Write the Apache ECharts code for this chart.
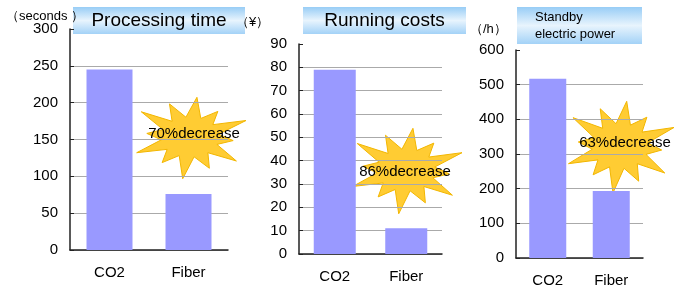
<!DOCTYPE html>
<html>
<head>
<meta charset="utf-8">
<script src="https://cdn.jsdelivr.net/npm/echarts@6/dist/echarts.min.js"></script>
<style>
  html, body { margin: 0; padding: 0; background: #fff; }
  #main { width: 674px; height: 288px; }
</style>
</head>
<body>
<div id="main"></div>
<script>
var categories = ['CO2', 'Fiber'];
var timeValues = [245, 76];
var costValues = [79, 11];
var powerValues = [517, 193];
var titles = ['Processing time', 'Running costs', 'Standby\nelectric power'];
var units = ['（seconds ）', '（¥）', '（/h）'];
var decreases = ['70%decrease', '86%decrease', '63%decrease'];

var font = 'Liberation Sans, Arial, sans-serif';
var chart = echarts.init(document.getElementById('main'));

// irregular burst shape around a centre
function burst(cx, cy, rx, ry) {
    var outer = [1.0, 0.8, 1.05, 0.75, 1.0, 0.85, 1.05, 0.8, 1.0, 0.75, 1.05, 0.9];
    var pts = [];
    for (var i = 0; i < outer.length; i++) {
        var a = (i / outer.length) * Math.PI * 2 - Math.PI / 2 + 0.12;
        var b = a + Math.PI / outer.length;
        pts.push([cx + Math.cos(a) * rx * outer[i], cy + Math.sin(a) * ry * outer[i]]);
        pts.push([cx + Math.cos(b) * rx * 0.5, cy + Math.sin(b) * ry * 0.5]);
    }
    return pts;
}

function titleBox(x, y, w, h, text, size, align) {
    return {
        type: 'group',
        children: [{
            type: 'rect',
            shape: { x: x, y: y, width: w, height: h },
            style: {
                fill: new echarts.graphic.LinearGradient(0, 0, 0, 1, [
                    { offset: 0, color: '#98cdf6' },
                    { offset: 0.5, color: '#e8f4fd' },
                    { offset: 1, color: '#a3d2f7' }
                ])
            }
        }, {
            type: 'text',
            style: {
                x: align === 'left' ? x + 18 : x + w / 2,
                y: y + h / 2,
                text: text,
                fill: '#000',
                font: size + 'px ' + font,
                align: align || 'center',
                verticalAlign: 'middle',
                lineHeight: size + 4
            }
        }]
    };
}

function star(cx, cy, rx, ry, text, tx, ty) {
    return {
        type: 'group',
        children: [{
            type: 'polygon',
            shape: { points: burst(cx, cy, rx, ry) },
            style: { fill: '#ffcc33', stroke: '#f2b600', lineWidth: 1 }
        }, {
            type: 'text',
            style: {
                x: tx, y: ty, text: text, fill: '#000',
                font: '15px ' + font, align: 'center', verticalAlign: 'middle'
            }
        }]
    };
}

function unitText(x, y, text) {
    return { type: 'text', style: { x: x, y: y, text: text, fill: '#000', font: '13px ' + font, verticalAlign: 'middle' } };
}

var grids = [
    { left: 70, right: 446, top: 29, bottom: 38 },
    { left: 299, right: 232, top: 44, bottom: 34 },
    { left: 516, right: 31, top: 50, bottom: 29 }
];
var yCfg = [
    { max: 300, interval: 50 },
    { max: 90, interval: 10 },
    { max: 600, interval: 100 }
];
var allValues = [timeValues, costValues, powerValues];
var barWidths = [46, 42, 37];

chart.setOption({
    animation: false,
    grid: grids,
    xAxis: grids.map(function (g, i) {
        return {
            type: 'category', gridIndex: i, data: categories,
            axisLine: { lineStyle: { color: '#222', width: 1.5 } },
            axisTick: { inside: true, length: 4, lineStyle: { color: '#222' } },
            axisLabel: { color: '#000', fontSize: 15, fontFamily: font, margin: 15 }
        };
    }),
    yAxis: yCfg.map(function (c, i) {
        return {
            type: 'value', gridIndex: i, min: 0, max: c.max, interval: c.interval,
            axisLine: { show: true, lineStyle: { color: '#222', width: 1.5 } },
            axisTick: { show: true, inside: true, length: 4, lineStyle: { color: '#222' } },
            axisLabel: { color: '#000', fontSize: 15, fontFamily: font, margin: 12 },
            splitLine: { show: true, showMaxLine: false, lineStyle: { color: '#aaa' } }
        };
    }),
    series: allValues.map(function (v, i) {
        return {
            type: 'bar', xAxisIndex: i, yAxisIndex: i, data: v,
            barWidth: barWidths[i], itemStyle: { color: '#9999ff' }
        };
    }),
    graphic: [
        titleBox(73, 7, 172, 27, titles[0], 19),
        titleBox(303, 7, 163, 27, titles[1], 19),
        titleBox(517, 7, 125, 37, titles[2], 13, 'left'),
        unitText(6, 16, units[0]),
        unitText(236, 22, units[1]),
        unitText(470, 29, units[2]),
        star(190, 137, 58, 40, decreases[0], 194, 134),
        star(406, 170, 58, 42, decreases[1], 405, 172),
        star(620, 146, 56, 45, decreases[2], 625, 143)
    ]
});
</script>
</body>
</html>
